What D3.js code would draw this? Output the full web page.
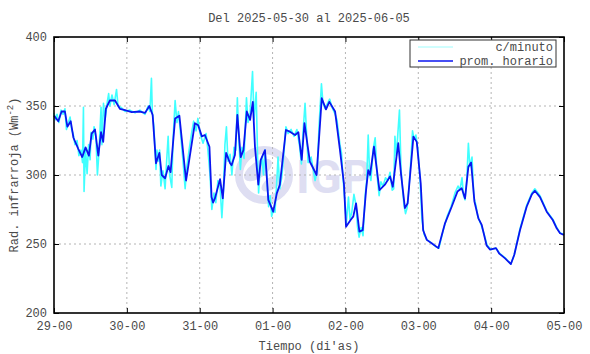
<!DOCTYPE html>
<html>
<head>
<meta charset="utf-8">
<script src="https://cdn.jsdelivr.net/npm/d3@7"></script>
<style>
  body { margin: 0; background: #fff; }
  text { font-family: "Liberation Mono", "DejaVu Sans Mono", monospace; font-size: 12px; fill: #4a4a4a; }
</style>
</head>
<body>
<div id="chart"></div>
<script>
// horas desde 2025-05-29 00:00
let dayTicks = [0, 24, 48, 72, 96, 120, 144, 168];
let dayLabels = ['29-00', '30-00', '31-00', '01-00', '02-00', '03-00', '04-00', '05-00'];
let radTicks = [200, 250, 300, 350, 400];

// promedio horario [hora, W/m2]
let hourly = [
  [0, 343], [1.4, 339], [2.5, 346], [3.6, 346], [4.4, 335], [5.5, 339], [6.4, 327], [8.0, 319],
  [9.3, 313], [10.4, 320], [11.5, 314], [12.4, 330], [13.5, 333], [14.6, 314], [15.5, 331], [16.2, 324],
  [17.1, 348], [18.4, 354], [20.1, 354], [21.7, 348], [23.4, 347], [25.6, 345.5], [28.3, 346], [30.0, 345],
  [31.4, 350], [32.5, 343.5], [33.6, 308.5], [34.7, 316], [35.5, 300], [36.6, 297.6], [37.7, 306.5], [38.4, 302],
  [39.9, 341], [41.3, 343], [43.5, 296], [46.4, 337.5], [47.5, 336], [48.7, 328], [49.7, 329], [51.2, 320.5],
  [51.9, 284], [52.4, 280], [53.0, 283], [54.7, 297], [55.6, 283], [56.7, 316], [58.0, 308.5], [58.5, 307],
  [59.6, 314.5], [60.4, 343.5], [61.5, 313], [62.4, 318], [63.5, 346], [64.6, 340], [65.5, 353], [66.2, 320.5],
  [67.3, 293], [68.1, 311], [69.5, 318], [70.6, 282], [72.2, 273.4], [73.4, 286.7], [74.4, 293], [76.4, 332.6],
  [77.7, 331.4], [79.4, 329], [80.5, 331], [81.6, 311], [82.5, 337.5], [84.3, 309.6], [86.5, 300], [88.2, 355.6],
  [89.6, 347.6], [90.7, 353], [92.6, 346], [94.2, 318], [95.5, 294], [96.2, 262.5], [97.7, 267.4], [98.6, 270],
  [99.5, 279.5], [100.6, 259], [101.7, 260], [102.8, 289], [103.5, 303.6], [104.1, 300], [105.4, 320.5], [107.2, 289],
  [109.0, 293], [110.7, 299], [111.6, 291.5], [112.9, 314.5], [113.4, 323], [114.3, 301], [115.6, 276], [116.5, 279.5],
  [118.4, 327.8], [119.5, 324], [120.8, 294], [121.6, 260], [122.8, 253], [124.4, 250.5], [126.6, 247], [128.8, 265],
  [131.0, 277], [132.9, 288], [134.3, 290.4], [135.4, 283], [136.5, 306], [137.4, 309], [138.5, 280.7], [139.8, 268.6],
  [140.9, 263.8], [142.5, 249], [143.6, 246], [145.6, 247], [146.7, 243], [148.6, 239.6], [150.5, 235.5], [151.6, 242],
  [153.5, 260], [155.7, 277], [157.4, 286], [158.4, 288.6], [160.1, 284], [162.3, 273.4], [164.3, 267.4], [165.6, 261.4],
  [166.7, 257.8], [168, 256.5]
];

// datos por minuto (leidos aprox. del grafico)
let minute = [
  [0.0, 345], [0.5, 340], [1.0, 344], [1.6, 338], [2.3, 347], [3.0, 344], [3.6, 348], [4.1, 333],
  [4.6, 337], [5.3, 342], [5.8, 333], [6.3, 330], [6.9, 322], [7.6, 325], [8.2, 314], [8.9, 318],
  [9.4, 309], [9.7, 349], [9.9, 288], [10.4, 318], [10.9, 301], [11.4, 322], [11.9, 311], [12.2, 331],
  [12.8, 326], [13.2, 335], [13.8, 328], [14.3, 300], [14.8, 316], [15.5, 349], [15.8, 322], [16.3, 352],
  [16.8, 340], [17.5, 352], [18.0, 359], [18.4, 350], [19.1, 358], [19.8, 351], [20.6, 362], [21.1, 350],
  [22.1, 349], [23.4, 346], [25.0, 347], [26.7, 345], [28.3, 347], [30.0, 344], [31.0, 350], [31.6, 346],
  [32.1, 370], [32.4, 345], [32.9, 335], [33.6, 304], [33.9, 318], [34.3, 310], [34.8, 318], [35.2, 292],
  [35.9, 303], [36.6, 290], [37.1, 310], [37.6, 328], [38.1, 300], [38.8, 291], [39.2, 325], [39.9, 354],
  [40.5, 338], [41.0, 346], [41.7, 330], [42.5, 310], [43.2, 290], [43.7, 305], [44.5, 318], [45.3, 330],
  [46.0, 339], [46.8, 332], [47.4, 341], [48.1, 330], [49.1, 323], [50.1, 330], [50.7, 318], [51.4, 300],
  [52.0, 275], [52.7, 287], [53.3, 280], [54.0, 296], [54.7, 292], [55.3, 269], [55.8, 288], [56.3, 322],
  [56.8, 335], [57.3, 310], [58.0, 315], [58.6, 300], [59.3, 320], [59.9, 318], [60.4, 356], [60.9, 325],
  [61.4, 304], [61.9, 320], [62.6, 312], [63.4, 356], [63.9, 338], [64.6, 345], [65.4, 375], [65.9, 340],
  [66.6, 360], [67.1, 310], [67.4, 287], [67.9, 305], [68.5, 313], [69.0, 300], [69.5, 318], [70.2, 295],
  [70.7, 277], [71.2, 285], [71.7, 270], [72.3, 275], [72.8, 273], [73.5, 300], [73.8, 313], [74.4, 290],
  [75.1, 300], [75.8, 318], [76.4, 335], [77.1, 330], [78.1, 333], [79.1, 328], [80.0, 333], [80.9, 321],
  [81.5, 308], [82.0, 330], [82.7, 352], [83.2, 330], [83.7, 309], [84.7, 313], [85.3, 305], [86.0, 296],
  [86.7, 303], [87.3, 335], [88.1, 366], [88.6, 352], [89.3, 348], [89.9, 351], [90.8, 355], [91.6, 349],
  [92.6, 344], [93.2, 340], [94.2, 322], [94.7, 316], [95.2, 298], [95.8, 282], [96.3, 265], [97.0, 284],
  [97.5, 268], [98.1, 273], [98.8, 286], [99.5, 278], [100.0, 262], [100.5, 255], [101.2, 262], [101.8, 256],
  [102.5, 285], [103.0, 296], [103.5, 329], [104.0, 300], [104.4, 296], [105.1, 318], [105.8, 327], [106.4, 300],
  [107.1, 285], [107.7, 295], [108.4, 292], [109.2, 298], [110.0, 296], [110.7, 302], [111.4, 289], [111.9, 290],
  [112.3, 328], [112.8, 314], [113.3, 331], [113.8, 347], [114.3, 305], [114.8, 290], [115.3, 278], [115.8, 272],
  [116.3, 276], [116.9, 290], [117.6, 312], [118.1, 332], [118.6, 326], [119.2, 329], [119.9, 318], [120.6, 296],
  [121.2, 268], [121.9, 257], [122.9, 253], [124.2, 251], [125.8, 248], [126.8, 247], [128.1, 259], [129.5, 270],
  [130.8, 277], [132.1, 287], [133.1, 292], [133.7, 289], [134.4, 298], [134.9, 285], [135.4, 282], [136.0, 298],
  [136.5, 323], [137.0, 306], [137.7, 313], [138.3, 284], [139.0, 278], [139.6, 270], [140.7, 264], [141.7, 257],
  [142.7, 249], [144.0, 246], [145.6, 247], [146.9, 243], [148.6, 240], [150.5, 235.5], [151.6, 242], [153.5, 261],
  [155.7, 278], [157.4, 287], [158.4, 290], [160.1, 285], [162.3, 274], [164.3, 268], [165.6, 262], [166.7, 258],
  [168, 257]
];

let svgWidth = 590;
let svgHeight = 354;
let margin = { top: 37, right: 26, bottom: 41, left: 54 };
let width = svgWidth - margin.left - margin.right;
let height = svgHeight - margin.top - margin.bottom;

let svg = d3.select('#chart').append('svg')
  .attr('width', svgWidth)
  .attr('height', svgHeight);

let chartGroup = svg.append('g')
  .attr('transform', `translate(${margin.left}, ${margin.top})`);

let xScale = d3.scaleLinear().domain([0, 168]).range([0, width]);
let yScale = d3.scaleLinear().domain([200, 400]).range([height, 0]);

// marca de agua IGP
let wmColor = '#dedef2';
let wm = chartGroup.append('g').attr('fill', wmColor);
wm.append('circle').attr('cx', 210).attr('cy', 138).attr('r', 25)
  .attr('fill', 'none').attr('stroke', wmColor).attr('stroke-width', 8);
wm.append('ellipse').attr('cx', 204).attr('cy', 133).attr('rx', 16).attr('ry', 8)
  .attr('transform', 'rotate(-35 204 133)');
wm.append('ellipse').attr('cx', 218).attr('cy', 146).attr('rx', 12).attr('ry', 6)
  .attr('transform', 'rotate(-35 218 146)');
wm.append('text')
  .attr('x', 242).attr('y', 156)
  .style('font-family', 'Roboto, "DejaVu Sans", sans-serif')
  .style('font-weight', 'bold')
  .style('font-size', '47px')
  .style('fill', wmColor)
  .text('IGP');

// rejilla punteada
chartGroup.append('g').selectAll('line.vg')
  .data(dayTicks.slice(1, -1))
  .enter().append('line')
  .attr('x1', d => xScale(d)).attr('x2', d => xScale(d))
  .attr('y1', 0).attr('y2', height)
  .attr('stroke', '#b4b4b4').attr('stroke-dasharray', '2,3');

chartGroup.append('g').selectAll('line.hg')
  .data(radTicks.slice(1, -1))
  .enter().append('line')
  .attr('x1', 0).attr('x2', width)
  .attr('y1', d => yScale(d)).attr('y2', d => yScale(d))
  .attr('stroke', '#b4b4b4').attr('stroke-dasharray', '2,3');

// series
let line = d3.line()
  .x(d => xScale(d[0]))
  .y(d => yScale(d[1]));

chartGroup.append('path')
  .datum(minute)
  .attr('fill', 'none')
  .attr('stroke', '#40ffff')
  .attr('stroke-width', 1.6)
  .attr('stroke-linejoin', 'round')
  .attr('d', line);

chartGroup.append('path')
  .datum(hourly)
  .attr('fill', 'none')
  .attr('stroke', '#0a14f0')
  .attr('stroke-width', 1.8)
  .attr('stroke-linejoin', 'round')
  .attr('d', line);

// ejes
let bottomAxis = d3.axisBottom(xScale)
  .tickValues(dayTicks)
  .tickFormat((d, i) => dayLabels[i])
  .tickSize(-5).tickPadding(8);
let topAxis = d3.axisTop(xScale).tickValues(dayTicks).tickFormat('').tickSize(-5);
let leftAxis = d3.axisLeft(yScale).tickValues(radTicks).tickSize(-5).tickPadding(7);
let rightAxis = d3.axisRight(yScale).tickValues(radTicks).tickFormat('').tickSize(-5);

chartGroup.append('g')
  .attr('transform', `translate(0, ${height})`)
  .call(bottomAxis);
chartGroup.append('g').call(topAxis);
chartGroup.append('g').call(leftAxis);
chartGroup.append('g').attr('transform', `translate(${width}, 0)`).call(rightAxis);

chartGroup.selectAll('.domain').remove();
chartGroup.selectAll('.tick line').attr('stroke', '#000');
chartGroup.selectAll('.tick text')
  .style('font-family', '"Liberation Mono", "DejaVu Sans Mono", monospace')
  .style('font-size', '12px')
  .attr('fill', '#4a4a4a');

// marco
chartGroup.append('rect')
  .attr('x', 0).attr('y', 0)
  .attr('width', width).attr('height', height)
  .attr('fill', 'none')
  .attr('stroke', '#000')
  .attr('stroke-width', 1.6);

// leyenda
let legend = chartGroup.append('g').attr('transform', `translate(${356}, ${3})`);
legend.append('rect')
  .attr('x', 0).attr('y', 0).attr('width', 146).attr('height', 27)
  .attr('fill', '#fff').attr('stroke', '#333').attr('stroke-width', 1);
legend.append('line')
  .attr('x1', 8).attr('x2', 43).attr('y1', 7).attr('y2', 7)
  .attr('stroke', '#9ffcfc').attr('stroke-width', 1);
legend.append('line')
  .attr('x1', 8).attr('x2', 43).attr('y1', 21).attr('y2', 21)
  .attr('stroke', '#0a14f0').attr('stroke-width', 1.4);
legend.append('text')
  .attr('x', 143).attr('y', 11).attr('text-anchor', 'end')
  .text('c/minuto');
legend.append('text')
  .attr('x', 143).attr('y', 25).attr('text-anchor', 'end')
  .text('prom. horario');

// titulos
svg.append('text')
  .attr('x', margin.left + width / 2).attr('y', 22)
  .attr('text-anchor', 'middle')
  .text('Del 2025-05-30 al 2025-06-05');

svg.append('text')
  .attr('x', margin.left + width / 2).attr('y', 350)
  .attr('text-anchor', 'middle')
  .text("Tiempo (di'as)");

let yLabel = svg.append('text')
  .attr('transform', `translate(18, ${margin.top + height / 2}) rotate(-90)`)
  .attr('text-anchor', 'middle');
yLabel.append('tspan').text('Rad. infrarroja (Wm');
yLabel.append('tspan').attr('dy', -5).style('font-size', '9px').text('-2');
yLabel.append('tspan').attr('dy', 5).text(')');
</script>
</body>
</html>
